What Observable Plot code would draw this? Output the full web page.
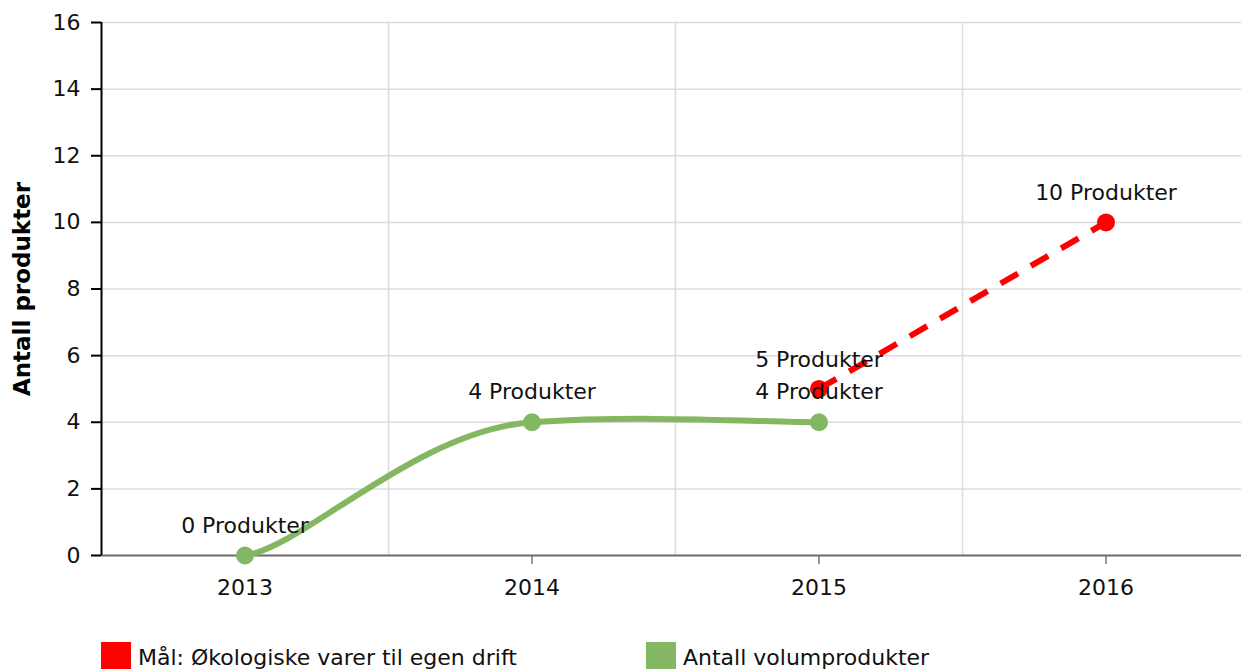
<!DOCTYPE html>
<html>
<head>
<meta charset="utf-8">
<script src="https://cdn.jsdelivr.net/npm/d3@7"></script>
<script src="https://cdn.jsdelivr.net/npm/@observablehq/plot@0.6"></script>
<style>
  html, body { margin: 0; padding: 0; background: #fff; }
  body { width: 1241px; height: 669px; overflow: hidden; font-family: "DejaVu Sans", Verdana, sans-serif; }
  #legend { position: absolute; left: 0; top: 642px; width: 1241px; height: 40px; }
  .item { position: absolute; top: 0; display: flex; align-items: flex-start; }
  .sw { width: 30px; height: 27px; }
  .lab { font-size: 22px; line-height: 26px; margin-left: 7px; padding-top: 3px; color: #111; white-space: nowrap; }
</style>
</head>
<body>
<div id="chart"></div>
<div id="legend"></div>
<script>
// ---- data ----
const years = [2013, 2014, 2015, 2016];
const volumYears = [2013, 2014, 2015];
const volumValues = [0, 4, 4];
const maalYears = [2015, 2016];
const maalValues = [5, 10];
const yTicks = [0, 2, 4, 6, 8, 10, 12, 14, 16];
const seriesNames = ["Mål: Økologiske varer til egen drift", "Antall volumprodukter"];
const seriesColors = ["#ff0000", "#84b761"];
const labelSuffix = " Produkter";
const yTitle = "Antall produkter";

const volum = volumYears.map((y, i) => ({year: y, value: volumValues[i]}));
const maal = maalYears.map((y, i) => ({year: y, value: maalValues[i]}));
const bounds = years.slice(0, -1).map(y => y + 0.5);

// smoothed-line curve (bezier with separate horizontal / vertical tension)
function smoothCurve(tx, ty) {
  return function(context) {
    let pts = [];
    return {
      areaStart() {}, areaEnd() {},
      lineStart() { pts = []; },
      point(x, y) { pts.push([+x, +y]); },
      lineEnd() {
        if (!pts.length) return;
        context.moveTo(pts[0][0], pts[0][1]);
        for (let i = 0; i < pts.length - 1; i++) {
          const p0 = pts[Math.max(i - 1, 0)], p1 = pts[i], p2 = pts[i + 1], p3 = pts[Math.min(i + 2, pts.length - 1)];
          context.bezierCurveTo(
            p1[0] + (p2[0] - p0[0]) / tx, p1[1] + (p2[1] - p0[1]) / ty,
            p2[0] - (p3[0] - p1[0]) / tx, p2[1] - (p3[1] - p1[1]) / ty,
            p2[0], p2[1]);
        }
      }
    };
  };
}

const FS = 22;
const chart = Plot.plot({
  width: 1241,
  height: 620,
  marginLeft: 101,
  marginTop: 22,
  marginBottom: 65,
  marginRight: 0,
  style: {fontFamily: "DejaVu Sans, Verdana, sans-serif", fontSize: FS + "px", color: "#111", background: "#fff"},
  x: {type: "linear", domain: [years[0] - 0.5, years[years.length - 1] + 0.5], range: [101, 1249]},
  y: {domain: [0, 16], range: [555, 22]},
  marks: [
    Plot.ruleY(yTicks, {stroke: "#dcdcdc", strokeWidth: 1.5}),
    Plot.ruleX(bounds, {stroke: "#dcdcdc", strokeWidth: 1.5}),
    Plot.axisY({ticks: yTicks, tickSize: 10, tickPadding: 11, stroke: "#000", strokeWidth: 2, label: null, fontSize: FS}),
    Plot.axisX({ticks: years, tickFormat: d => String(d), tickSize: 9, tickPadding: 15, stroke: "#999", strokeWidth: 2, label: null, fontSize: FS}),
    Plot.ruleY([0], {stroke: "#6e6e6e", strokeWidth: 2}),
    Plot.ruleX([years[0] - 0.5], {stroke: "#000", strokeWidth: 2}),
    Plot.line(volum, {x: "year", y: "value", stroke: seriesColors[1], strokeWidth: 6, curve: smoothCurve(5, 17.5)}),
    Plot.dot(volum, {x: "year", y: "value", r: 9, fill: seriesColors[1]}),
    Plot.line(maal, {x: "year", y: "value", stroke: seriesColors[0], strokeWidth: 6, strokeDasharray: "20,15", strokeLinecap: "butt"}),
    Plot.dot(maal, {x: "year", y: "value", r: 9, fill: seriesColors[0]}),
    Plot.text(volum, {x: "year", y: "value", text: d => d.value + labelSuffix, dy: -30, fill: "#111", fontSize: FS}),
    Plot.text(maal, {x: "year", y: "value", text: d => d.value + labelSuffix, dy: -29, fill: "#111", fontSize: FS}),
    Plot.text([yTitle], {frameAnchor: "left", textAnchor: "middle", dx: -79, rotate: -90, fontWeight: "bold", fontSize: 23, fill: "#000"})
  ]
});
document.getElementById("chart").appendChild(chart);

const legend = document.getElementById("legend");
const lx = [101, 646];
seriesNames.forEach((name, i) => {
  const it = document.createElement("div");
  it.className = "item";
  it.style.left = lx[i] + "px";
  it.innerHTML = `<div class="sw" style="background:${seriesColors[i]}"></div><div class="lab">${name}</div>`;
  legend.appendChild(it);
});
</script>
</body>
</html>
